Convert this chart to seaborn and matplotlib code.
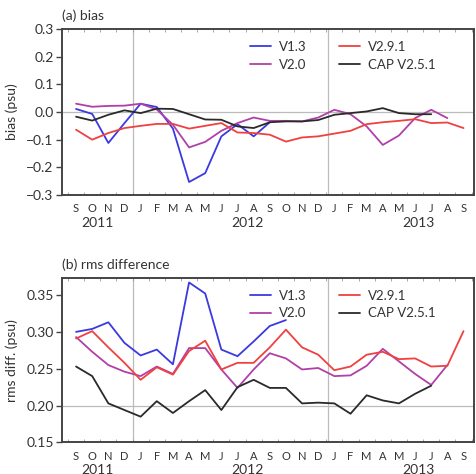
import numpy as np
import pandas as pd
import matplotlib
matplotlib.use('Agg')
import matplotlib.pyplot as plt
import seaborn as sns

# meses (set/2011 a set/2013)
meses = ['S', 'O', 'N', 'D', 'J', 'F', 'M', 'A', 'M', 'J', 'J', 'A', 'S',
         'O', 'N', 'D', 'J', 'F', 'M', 'A', 'M', 'J', 'J', 'A', 'S']
anos = ['2011', '2012', '2013']
nan = np.nan

# (a) bias
bias_v13 = [0.011, -0.007, -0.112, -0.040, 0.030, 0.018, -0.060, -0.253, -0.221, -0.088,
            -0.044, -0.088, -0.037, nan, nan, nan, nan, nan, nan, nan, nan, nan, nan, nan, nan]
bias_v20 = [0.030, 0.019, 0.022, 0.023, 0.030, 0.009, -0.046, -0.128, -0.108, -0.068,
            -0.040, -0.020, -0.032, -0.032, -0.034, -0.020, 0.008, -0.008, -0.052, -0.119,
            -0.085, -0.022, 0.008, -0.022, nan]
bias_v291 = [-0.064, -0.100, -0.076, -0.058, -0.050, -0.043, -0.043, -0.060, -0.050, -0.040,
             -0.074, -0.076, -0.082, -0.107, -0.092, -0.088, -0.078, -0.068, -0.044, -0.037,
             -0.032, -0.026, -0.040, -0.038, -0.058]
bias_cap = [-0.017, -0.031, -0.010, 0.006, -0.004, 0.012, 0.011, -0.008, -0.027, -0.028,
            -0.052, -0.058, -0.037, -0.034, -0.034, -0.029, -0.010, -0.004, 0.002, 0.014,
            -0.004, -0.008, -0.008, nan, nan]

# (b) rms difference
rms_v13 = [0.300, 0.304, 0.313, 0.285, 0.268, 0.276, 0.256, 0.367, 0.352, 0.276,
           0.267, 0.287, 0.308, 0.316, nan, nan, nan, nan, nan, nan, nan, nan, nan, nan, nan]
rms_v20 = [0.293, 0.273, 0.255, 0.246, 0.240, 0.253, 0.243, 0.278, 0.278, 0.249,
           0.224, 0.249, 0.271, 0.264, 0.249, 0.251, 0.240, 0.241, 0.254, 0.277,
           0.260, 0.243, 0.228, 0.255, nan]
rms_v291 = [0.291, 0.301, 0.279, 0.258, 0.235, 0.252, 0.242, 0.274, 0.288, 0.249,
            0.258, 0.258, 0.279, 0.303, 0.279, 0.269, 0.248, 0.253, 0.269, 0.273,
            0.263, 0.264, 0.253, 0.254, 0.301]
rms_cap = [0.253, 0.240, 0.203, 0.194, 0.185, 0.206, 0.190, 0.206, 0.221, 0.194,
           0.225, 0.235, 0.224, 0.224, 0.203, 0.204, 0.203, 0.189, 0.214, 0.207,
           0.203, 0.216, 0.227, nan, nan]

versoes = ['V1.3', 'V2.0', 'V2.9.1', 'CAP V2.5.1']
cores = {'V1.3': '#3a3ae0', 'V2.0': '#b040a8', 'V2.9.1': '#f04040', 'CAP V2.5.1': '#2a2a2a'}


def montarTabela(series):
    linhas = []
    for nome, valores in zip(versoes, series):
        for i, v in enumerate(valores):
            linhas.append({'mes': i, 'valor': v, 'versao': nome})
    return pd.DataFrame(linhas).dropna()


dados_bias = montarTabela([bias_v13, bias_v20, bias_v291, bias_cap])
dados_rms = montarTabela([rms_v13, rms_v20, rms_v291, rms_cap])

sns.set_style('ticks')
plt.rcParams['font.family'] = ['Lato', 'DejaVu Sans']

fig = plt.figure(figsize=(4.76, 4.74), dpi=100)
ax1 = fig.add_axes([0.1303, 0.5886, 0.8655, 0.3502])
ax2 = fig.add_axes([0.1303, 0.0665, 0.8655, 0.3477])

cor_texto = '#333333'


def painel(ax, dados, titulo, ylabel, ylim, yticks, ylabels, yref):
    ax.axvline(3.5, color='#bbbbbb', lw=0.9, zorder=0)
    ax.axvline(15.6, color='#bbbbbb', lw=0.9, zorder=0)
    ax.axhline(yref, color='#bbbbbb', lw=0.9, zorder=0)
    sns.lineplot(data=dados, x='mes', y='valor', hue='versao', hue_order=versoes,
                 palette=cores, linewidth=1.3, ax=ax, legend=False)
    ax.set_xlim(-0.87, 24.65)
    ax.set_ylim(*ylim)
    ax.set_yticks(yticks)
    ax.set_yticklabels(ylabels, fontsize=10, color=cor_texto)
    ax.set_xticks(range(len(meses)))
    ax.set_xticklabels(meses, fontsize=8, color=cor_texto)
    ax.tick_params(axis='x', length=0, pad=6)
    ax.tick_params(axis='y', length=4, width=1, color='#444444', pad=2)
    ax.set_xticks(np.arange(-0.5, 24.6, 1), minor=True)
    ax.tick_params(axis='x', which='minor', direction='in', length=2.5, width=0.6,
                   color='#999999', top=True, bottom=True)
    ax.set_xlabel('')
    ax.set_ylabel(ylabel, fontsize=10, color=cor_texto)
    ax.yaxis.set_label_coords(-0.108, 0.5)
    for s in ax.spines.values():
        s.set_linewidth(1.4)
        s.set_color('#444444')
    ax.text(0, 1.04, titulo, transform=ax.transAxes, fontsize=10, color=cor_texto,
            ha='left', va='bottom')
    # legenda em duas colunas
    handles = [plt.Line2D([], [], color=cores[v], lw=1.3) for v in versoes]
    ax.legend(handles, versoes, ncol=2, frameon=False, loc='upper right',
              bbox_to_anchor=(0.935, 1.0), fontsize=9.5, handlelength=1.6,
              handletextpad=0.6, columnspacing=2.4, labelspacing=0.45,
              labelcolor=cor_texto)
    # anos abaixo dos meses
    for ano, pos in zip(anos, [1.3, 10.6, 21.2]):
        ax.annotate(ano, xy=(pos, 0), xycoords=ax.get_xaxis_transform(),
                    xytext=(0, -15.5), textcoords='offset points', fontsize=10,
                    color=cor_texto, ha='center', va='top')


ticks_bias = [-0.3, -0.2, -0.1, 0.0, 0.1, 0.2, 0.3]
ticks_rms = [0.15, 0.20, 0.25, 0.30, 0.35]
painel(ax1, dados_bias, '(a) bias', 'bias (psu)', (-0.3, 0.3), ticks_bias,
       [('\u2212' if v < 0 else '') + '{:.1f}'.format(abs(v)) for v in ticks_bias], 0.0)
painel(ax2, dados_rms, '(b) rms difference', 'rms diff. (psu)', (0.15, 0.3735), ticks_rms,
       ['{:.2f}'.format(v) for v in ticks_rms], 0.2)

fig.savefig('out.png', dpi=100)
